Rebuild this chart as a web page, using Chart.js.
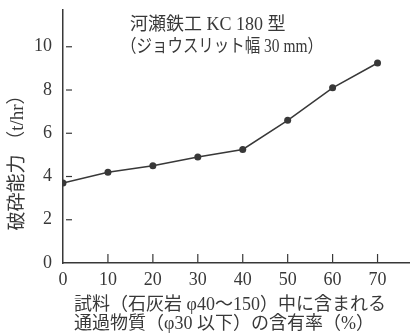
<!DOCTYPE html>
<html>
<head>
<meta charset="utf-8">
<script src="https://cdn.jsdelivr.net/npm/chart.js@4/dist/chart.umd.min.js"></script>
<style>
  body { margin: 0; background: #fff; }
  #wrap { width: 413px; height: 333px; }
</style>
</head>
<body>
<div id="wrap"><canvas id="myChart" width="413" height="333"></canvas></div>
<script>
'use strict';

// data
var contentRate = [0, 10, 20, 30, 40, 50, 60, 70];          // %
var capacity = [3.7, 4.2, 4.5, 4.9, 5.25, 6.6, 8.1, 9.25];   // t/hr

var noteLines = ['河瀬鉄工 KC 180 型', '（ジョウスリット幅 30 mm）'];
var xTitleLines = ['試料（石灰岩 φ40〜150）中に含まれる', '通過物質（φ30 以下）の含有率（%）'];
var yTitle = '破砕能力 （t/hr）';

var ink = '#383838';
var serif = "'Liberation Serif', 'Noto Sans CJK JP', serif";

var points = contentRate.map(function (x, i) {
    return { x: x, y: capacity[i] };
});

// texts and inward tick marks
var extras = {
    id: 'extras',
    afterDraw: function (chart) {
        var ctx = chart.ctx;
        var xs = chart.scales.x;
        var ys = chart.scales.y;
        ctx.save();
        ctx.strokeStyle = ink;
        ctx.lineWidth = 1.2;
        xs.ticks.forEach(function (t) {
            if (t.value === 0) return;
            var px = xs.getPixelForValue(t.value);
            ctx.beginPath();
            ctx.moveTo(px, ys.bottom);
            ctx.lineTo(px, ys.bottom - 9);
            ctx.stroke();
        });
        ys.ticks.forEach(function (t) {
            if (t.value === 0) return;
            var py = ys.getPixelForValue(t.value);
            ctx.beginPath();
            ctx.moveTo(xs.left + 3, py);
            ctx.lineTo(xs.left + 9, py);
            ctx.stroke();
        });

        ctx.fillStyle = ink;
        ctx.textBaseline = 'middle';
        ctx.textAlign = 'left';
        ctx.font = '18px ' + serif;
        ctx.fillText(noteLines[0], 130, 25);
        ctx.fillText(noteLines[1], 121, 47, 202);

        ctx.fillText(xTitleLines[0], 74, 305);
        ctx.fillText(xTitleLines[1], 74, 324);

        ctx.translate(18, 158);
        ctx.rotate(-Math.PI / 2);
        ctx.textAlign = 'center';
        ctx.font = '19px ' + serif;
        ctx.fillText(yTitle, 0, 0);
        ctx.restore();
    }
};

var ctx = document.getElementById('myChart').getContext('2d');
var myChart = new Chart(ctx, {
    type: 'scatter',
    data: {
        datasets: [{
            data: points,
            showLine: true,
            borderColor: ink,
            borderWidth: 1.5,
            backgroundColor: ink,
            pointRadius: 3.5,
            pointBorderWidth: 0
        }]
    },
    options: {
        responsive: false,
        animation: false,
        layout: { padding: { top: 10, right: 0, left: 0, bottom: 0 } },
        plugins: {
            legend: { display: false },
            tooltip: { enabled: false }
        },
        scales: {
            x: {
                type: 'linear',
                min: 0,
                max: 77,
                afterFit: function (scale) {
                    scale.height = 70;
                    scale.paddingLeft = 0;
                    scale.paddingRight = 0;
                },
                grid: { drawOnChartArea: false, drawTicks: false },
                border: { color: ink, width: 1.5 },
                ticks: {
                    stepSize: 10,
                    includeBounds: false,
                    padding: 6,
                    color: ink,
                    font: { family: serif, size: 18 }
                }
            },
            y: {
                min: 0,
                max: 11.7,
                afterFit: function (scale) {
                    scale.width = 63;
                    scale.paddingTop = 0;
                    scale.paddingBottom = 0;
                },
                grid: { drawOnChartArea: false, drawTicks: false },
                border: { color: ink, width: 1.5 },
                ticks: {
                    stepSize: 2,
                    includeBounds: false,
                    padding: 11,
                    color: ink,
                    font: { family: serif, size: 18 }
                }
            }
        }
    },
    plugins: [extras]
});
</script>
</body>
</html>
